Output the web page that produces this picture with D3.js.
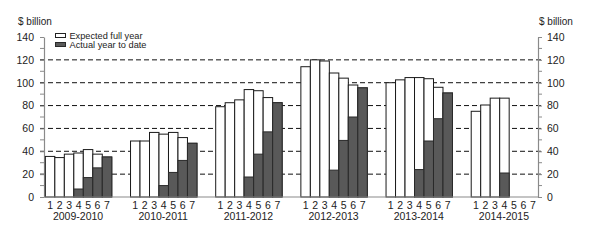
<!DOCTYPE html>
<html>
<head>
<meta charset="utf-8">
<script src="https://cdn.jsdelivr.net/npm/d3@7"></script>
<style>
  body { margin: 0; background: #fff; }
  text { font-family: "Liberation Sans", Arial, sans-serif; fill: #222; }
</style>
</head>
<body>
<div id="chart"></div>
<script>
'use strict'

// financial years and the update rounds within each
const years = ['2009-2010', '2010-2011', '2011-2012', '2012-2013', '2013-2014', '2014-2015']
const rounds = ['1', '2', '3', '4', '5', '6', '7']

// expected full year, $ billion
const expected = [
    [35.5, 34.5, 37.5, 38.5, 41.5, 37.5, 35],
    [49, 49, 56.5, 55, 56.5, 52, 47],
    [79, 82.5, 85, 94, 93, 87, 82.5],
    [114, 120, 119, 108.5, 104, 98, 95.5],
    [100, 102.5, 104.5, 104.5, 103.5, 96, 91],
    [75, 80.5, 86.5, 86.5, null, null, null]
]

// actual year to date, $ billion
const actual = [
    [null, null, null, 7, 17, 25.5, 35],
    [null, null, null, 10, 21.5, 32, 47],
    [null, null, null, 17.5, 37.5, 57, 82.5],
    [null, null, null, 23.5, 49.5, 70, 95.5],
    [null, null, null, 24, 49, 68.5, 91],
    [null, null, null, 21, null, null, null]
]

const yTicks = [0, 20, 40, 60, 80, 100, 120, 140]
const yMinor = [10, 30, 50, 70, 90, 110, 130]
const unitLabel = '$ billion'
const legendLabels = ['Expected full year', 'Actual year to date']

////////////////////////////////////
//////////// svg setup /////////////
////////////////////////////////////

const svgWidth = 593
const svgHeight = 246
const margin = { left: 44, right: 55, top: 37, bottom: 49 }
const width = svgWidth - margin.left - margin.right
const height = svgHeight - margin.top - margin.bottom

const svg = d3.select('#chart')
    .append('svg')
    .attr('width', svgWidth)
    .attr('height', svgHeight)
    .append('g')
    .attr('transform', `translate(${margin.left},${margin.top})`)

////////////////////////////////////
//////////// Scales ////////////////
////////////////////////////////////

const x0 = d3.scaleBand()
    .domain(years)
    .range([0, width])
    .paddingInner(0.22)
    .paddingOuter(0.01)

const x1 = d3.scaleBand()
    .domain(rounds)
    .range([0, x0.bandwidth()])

const y = d3.scaleLinear()
    .domain([0, 140])
    .range([height, 0])

////////////////////////////////////
//////////// Grid & axes ///////////
////////////////////////////////////

const axisColor = '#8a8a8a'

// dashed gridlines (behind the bars)
svg.append('g')
    .selectAll('line')
    .data(yTicks.filter(d => d > 0 && d < 140))
    .join('line')
    .attr('x1', -4)
    .attr('x2', width + 4)
    .attr('y1', d => y(d))
    .attr('y2', d => y(d))
    .attr('stroke', '#111')
    .attr('stroke-width', 1)
    .attr('stroke-dasharray', '5,3')

// left axis
const yAxisLeft = d3.axisLeft(y)
    .tickValues(yTicks)
    .tickSize(4)
    .tickSizeOuter(0)
    .tickPadding(6)
svg.append('g')
    .attr('class', 'y-left')
    .call(yAxisLeft)

// right axis
const yAxisRight = d3.axisRight(y)
    .tickValues(yTicks)
    .tickSize(4)
    .tickSizeOuter(0)
    .tickPadding(5)
svg.append('g')
    .attr('class', 'y-right')
    .attr('transform', `translate(${width},0)`)
    .call(yAxisRight)

svg.selectAll('.y-left, .y-right').each(function () {
    const g = d3.select(this)
    g.select('.domain').attr('stroke', axisColor).attr('stroke-width', 1.2)
    g.selectAll('line').attr('stroke', axisColor)
    g.selectAll('text')
        .attr('font-size', '10.5px')
        .attr('font-family', '"Liberation Sans", Arial, sans-serif')
        .attr('fill', '#222')
})

// minor ticks
svg.append('g')
    .selectAll('line')
    .data(yMinor)
    .join('line')
    .attr('x1', -4)
    .attr('x2', 0)
    .attr('y1', d => y(d))
    .attr('y2', d => y(d))
    .attr('stroke', axisColor)
svg.append('g')
    .selectAll('line')
    .data(yMinor)
    .join('line')
    .attr('x1', width)
    .attr('x2', width + 4)
    .attr('y1', d => y(d))
    .attr('y2', d => y(d))
    .attr('stroke', axisColor)

// unit labels
svg.append('text')
    .attr('x', 18 - margin.left)
    .attr('y', 25 - margin.top)
    .attr('font-size', '10px')
    .text(unitLabel)
svg.append('text')
    .attr('x', width + 1)
    .attr('y', 25 - margin.top)
    .attr('font-size', '10px')
    .text(unitLabel)

////////////////////////////////////
//////////// Bars //////////////////
////////////////////////////////////

const groups = svg.append('g')
    .selectAll('g')
    .data(years)
    .join('g')
    .attr('transform', d => `translate(${x0(d)},0)`)

// expected full year (white)
groups.selectAll('rect.exp')
    .data((d, i) => rounds.map((r, j) => ({ r, v: expected[i][j] })).filter(e => e.v != null))
    .join('rect')
    .attr('class', 'exp')
    .attr('x', d => x1(d.r) + 0.5)
    .attr('width', x1.bandwidth())
    .attr('y', d => y(d.v))
    .attr('height', d => y(0) - y(d.v))
    .attr('fill', '#fff')
    .attr('stroke', '#1a1a1a')
    .attr('stroke-width', 1)

// actual year to date (dark)
groups.selectAll('rect.act')
    .data((d, i) => rounds.map((r, j) => ({ r, v: actual[i][j] })).filter(e => e.v != null))
    .join('rect')
    .attr('class', 'act')
    .attr('x', d => x1(d.r) + 0.5)
    .attr('width', x1.bandwidth())
    .attr('y', d => y(d.v))
    .attr('height', d => y(0) - y(d.v))
    .attr('fill', '#595959')
    .attr('stroke', '#2a2a2a')
    .attr('stroke-width', 1)

// bottom axis line
svg.append('line')
    .attr('x1', 0)
    .attr('x2', width)
    .attr('y1', y(0))
    .attr('y2', y(0))
    .attr('stroke', axisColor)
    .attr('stroke-width', 1.2)

// round numbers & year labels
groups.selectAll('text.round')
    .data(rounds)
    .join('text')
    .attr('class', 'round')
    .attr('x', d => x1(d) + x1.bandwidth() / 2 + 0.5)
    .attr('y', height + 12)
    .attr('text-anchor', 'middle')
    .attr('font-size', '10.5px')
    .text(d => d)

groups.append('text')
    .attr('x', x0.bandwidth() / 2)
    .attr('y', height + 23)
    .attr('text-anchor', 'middle')
    .attr('font-size', '10.5px')
    .text(d => d)

////////////////////////////////////
//////////// Legend ////////////////
////////////////////////////////////

const legend = svg.append('g')
    .attr('transform', `translate(${55.5 - margin.left},${33.5 - margin.top})`)

legend.selectAll('rect')
    .data(legendLabels)
    .join('rect')
    .attr('x', 0)
    .attr('y', (d, i) => i * 9)
    .attr('width', 10)
    .attr('height', 4)
    .attr('fill', (d, i) => i === 0 ? '#fff' : '#595959')
    .attr('stroke', (d, i) => i === 0 ? '#222' : '#2a2a2a')

legend.selectAll('text')
    .data(legendLabels)
    .join('text')
    .attr('x', 14)
    .attr('y', (d, i) => i * 9 + 5)
    .attr('font-size', '8.5px')
    .attr('textLength', (d, i) => i === 0 ? 73 : 77)
    .attr('lengthAdjust', 'spacingAndGlyphs')
    .text(d => d)
</script>
</body>
</html>
